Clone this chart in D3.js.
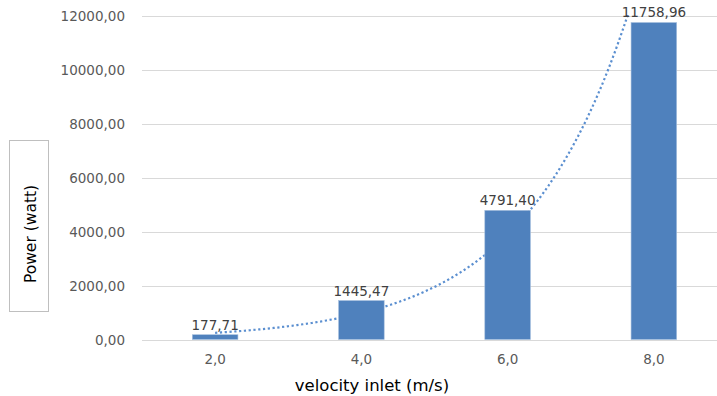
<!DOCTYPE html>
<html>
<head>
<meta charset="utf-8">
<script src="https://cdn.jsdelivr.net/npm/d3@7"></script>
<style>
  html, body { margin: 0; padding: 0; background: #ffffff; }
  svg { display: block; }
</style>
</head>
<body>
<svg id="chart" width="717" height="396"></svg>
<script>
// ---- data ----
const categories = ["2,0", "4,0", "6,0", "8,0"];
const powerValues = [177.71, 1445.47, 4791.40, 11758.96];
const dataLabels = ["177,71", "1445,47", "4791,40", "11758,96"];
const yTicks = [0, 2000, 4000, 6000, 8000, 10000, 12000];
const yTickLabels = ["0,00", "2000,00", "4000,00", "6000,00", "8000,00", "10000,00", "12000,00"];
const xTitle = "velocity inlet (m/s)";
const yTitle = "Power (watt)";

// ---- layout ----
const W = 717, H = 396;
const plot = { left: 142, right: 727, top: 16, bottom: 339.5 };
const barColor = "#4f81bd";
const fontFam = "'DejaVu Sans', 'Liberation Sans', sans-serif";

const svg = d3.select("#chart");

const x = d3.scaleBand()
  .domain(categories)
  .range([plot.left, plot.right])
  .paddingInner(0.688)
  .paddingOuter(0.344);

const y = d3.scaleLinear()
  .domain([0, 12000])
  .range([plot.bottom, plot.top]);

// gridlines
svg.append("g")
  .selectAll("line")
  .data(yTicks)
  .join("line")
  .attr("x1", plot.left)
  .attr("x2", plot.right)
  .attr("y1", d => Math.round(y(d)) + 0.5)
  .attr("y2", d => Math.round(y(d)) + 0.5)
  .attr("stroke", "#d9d9d9")
  .attr("stroke-width", 1);

// y axis labels
const yAxis = d3.axisLeft(y)
  .tickValues(yTicks)
  .tickFormat((d, i) => yTickLabels[i])
  .tickSize(0)
  .tickPadding(0);
const gy = svg.append("g")
  .attr("transform", `translate(${plot.left - 17},0)`)
  .call(yAxis);
gy.select(".domain").remove();
gy.selectAll("text")
  .attr("fill", "#595959")
  .attr("font-family", fontFam)
  .attr("font-size", "13.5px")
  .attr("dy", "0.36em");

// x axis labels
const xAxis = d3.axisBottom(x).tickSize(0).tickPadding(0);
const gx = svg.append("g")
  .attr("transform", `translate(0,${plot.bottom})`)
  .call(xAxis);
gx.select(".domain").remove();
gx.selectAll("text")
  .attr("fill", "#595959")
  .attr("font-family", fontFam)
  .attr("font-size", "13.5px")
  .attr("dy", null)
  .attr("y", 24);

// exponential trendline (least squares on ln(y) vs category index 1..n)
const n = powerValues.length;
const xs = powerValues.map((_, i) => i + 1);
const ls = powerValues.map(v => Math.log(v));
const mx = d3.mean(xs), ml = d3.mean(ls);
const slope = d3.sum(xs.map((xi, i) => (xi - mx) * (ls[i] - ml))) / d3.sum(xs.map(xi => (xi - mx) ** 2));
const intercept = ml - slope * mx;
const idxToPx = d3.scaleLinear()
  .domain([1, n])
  .range([x(categories[0]) + x.bandwidth() / 2, x(categories[n - 1]) + x.bandwidth() / 2]);
const trendPts = d3.range(1, n + 0.0001, 0.02).map(t => [t, Math.exp(intercept + slope * t)]);

svg.append("clipPath").attr("id", "plotClip")
  .append("rect")
  .attr("x", plot.left).attr("y", plot.top - 2)
  .attr("width", plot.right - plot.left).attr("height", plot.bottom - plot.top + 2);

svg.append("path")
  .datum(trendPts)
  .attr("clip-path", "url(#plotClip)")
  .attr("fill", "none")
  .attr("stroke", "#5b8fd0")
  .attr("stroke-width", 2.2)
  .attr("stroke-dasharray", "2.2 2.6")
  .attr("d", d3.line().x(d => idxToPx(d[0])).y(d => y(d[1])));

// bars
svg.append("g")
  .selectAll("rect")
  .data(powerValues)
  .join("rect")
  .attr("x", (d, i) => x(categories[i]))
  .attr("width", x.bandwidth())
  .attr("y", d => y(d))
  .attr("height", d => y(0) - y(d))
  .attr("fill", barColor)
  .attr("stroke", "#a7c0de")
  .attr("stroke-width", 0.6);

// data labels
svg.append("g")
  .selectAll("text")
  .data(powerValues)
  .join("text")
  .attr("x", (d, i) => x(categories[i]) + x.bandwidth() / 2)
  .attr("y", d => y(d) - 5)
  .attr("text-anchor", "middle")
  .attr("fill", "#404040")
  .attr("font-family", fontFam)
  .attr("font-size", "13.5px")
  .text((d, i) => dataLabels[i]);

// x title
svg.append("text")
  .attr("x", 372)
  .attr("y", 391)
  .attr("text-anchor", "middle")
  .attr("fill", "#000000")
  .attr("font-family", fontFam)
  .attr("font-size", "16.5px")
  .text(xTitle);

// y title with box
svg.append("rect")
  .attr("x", 9.5).attr("y", 140.5)
  .attr("width", 39).attr("height", 171)
  .attr("fill", "#ffffff")
  .attr("stroke", "#bfbfbf")
  .attr("stroke-width", 1);
svg.append("text")
  .attr("transform", "translate(36,234) rotate(-90)")
  .attr("text-anchor", "middle")
  .attr("fill", "#000000")
  .attr("font-family", fontFam)
  .attr("font-size", "15.5px")
  .text(yTitle);
</script>
</body>
</html>
